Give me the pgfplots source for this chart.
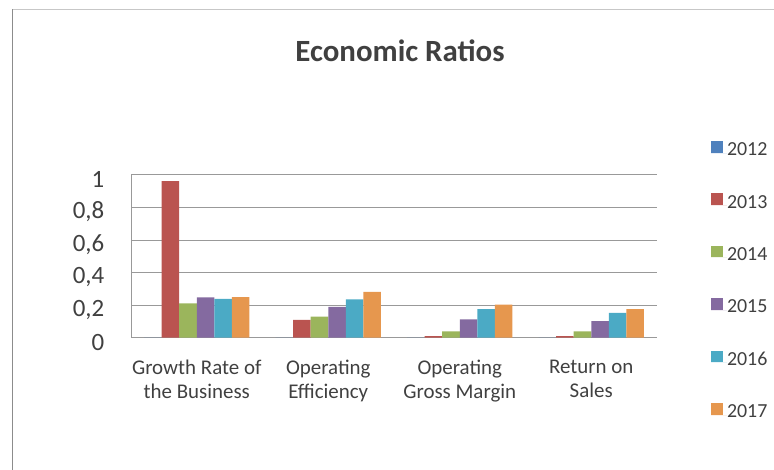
\documentclass[border=0pt]{standalone}
\usepackage{fontspec}
\setmainfont{Carlito}
\usepackage{pgfplots}
\pgfplotsset{compat=1.18}
\definecolor{cA}{HTML}{4F81BD}
\definecolor{cB}{HTML}{BA5450}
\definecolor{cC}{HTML}{9BB55C}
\definecolor{cD}{HTML}{846AA0}
\definecolor{cE}{HTML}{4BAAC5}
\definecolor{cF}{HTML}{E6974E}
\definecolor{txt}{HTML}{404040}
\newcommand{\yl}[1]{\hbox{\fontsize{25}{25}\selectfont #1}}
\begin{document}
\begin{tikzpicture}[x=1bp,y=1bp]
\useasboundingbox (0,0) rectangle (774,470);
\draw[line width=1bp, black!22] (12,460) -- (774,460);
\draw[line width=1bp, black!45] (12,460.5) -- (12,0);
\begin{axis}[
  at={(131bp,132.3bp)}, anchor=south west,
  scale only axis, width=526bp, height=162.7bp,
  ybar=0pt, bar width=0.1333,
  xmin=-0.5, xmax=3.5, ymin=0, ymax=1,
  enlargelimits=false,
  axis lines*=left,
  axis line style={-, black!40, line width=1bp},
  major tick length=0pt,
  ymajorgrids, grid style={black!40, line width=1bp},
  xtick={0,1,2,3},
  xticklabels={{Growth Rate of\\the Business},{Operating\\Efficiency},{Operating\\Gross Margin},{Return on\\Sales}},
  xticklabel style={font=\fontsize{21}{23.3}\selectfont, align=center, anchor=north, inner sep=0pt, yshift=-22.5bp, text=txt},
  ytick={0,0.2,0.4,0.6,0.8,1},
  yticklabels={\yl{0},\yl{0,2},\yl{0,4},\yl{0,6},\yl{0,8},\yl{1}},
  yticklabel style={font=\fontsize{25}{25}\selectfont, anchor=east, inner sep=0pt, xshift=-26.5bp, yshift=-4.5bp, text=txt},
  title={Economic Ratios},
  title style={font=\fontsize{31}{31}\selectfont\bfseries, text=txt, at={(rel axis cs:0.5114,1)}, anchor=base, inner sep=0pt, yshift=107.7bp},
  legend style={at={(rel axis cs:1.1027,1.209)}, anchor=north west, draw=none, fill=none, inner sep=0pt, outer sep=0pt,
    font=\fontsize{20}{20}\selectfont, text=txt, row sep=37.7bp, column sep=0pt,
    nodes={inner sep=0pt, outer sep=0pt, text height=12bp, text depth=0bp},
    cells={anchor=base west}},
  legend image code/.code={\fill[#1] (0bp,3bp) rectangle (11.7bp,14.7bp); \path (0bp,3bp) rectangle (16bp,3bp);},
]
\addplot[fill=cA, draw=none] coordinates {(0,0) (1,0) (2,0) (3,0)};
\addplot[fill=cB, draw=none] coordinates {(0,0.963) (1,0.109) (2,0.010) (3,0.010)};
\addplot[fill=cC, draw=none] coordinates {(0,0.211) (1,0.129) (2,0.039) (3,0.039)};
\addplot[fill=cD, draw=none] coordinates {(0,0.248) (1,0.189) (2,0.113) (3,0.102)};
\addplot[fill=cE, draw=none] coordinates {(0,0.238) (1,0.236) (2,0.176) (3,0.152)};
\addplot[fill=cF, draw=none] coordinates {(0,0.250) (1,0.281) (2,0.203) (3,0.176)};
\legend{2012,2013,2014,2015,2016,2017}
\end{axis}
\end{tikzpicture}
\end{document}
